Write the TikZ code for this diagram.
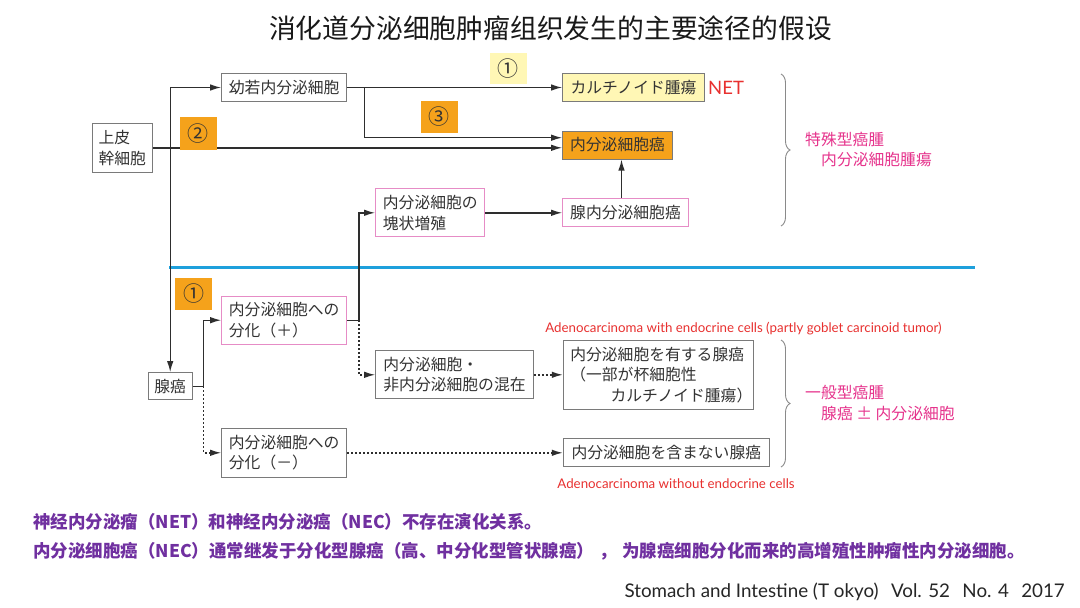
\documentclass[tikz,border=0pt]{standalone}
\usepackage{fontspec}
\setmainfont{Lato}
\newfontfamily\jp{Noto Sans CJK JP}
\newfontfamily\cjksc{Noto Sans CJK SC}
\usetikzlibrary{arrows.meta,decorations.pathreplacing,calc}
\definecolor{boxgray}{HTML}{7A7A7A}
\definecolor{textdark}{HTML}{333333}
\definecolor{pinkb}{HTML}{E68CC6}
\definecolor{yellowfill}{HTML}{FFF7B5}
\definecolor{orangefill}{HTML}{F5A21B}
\definecolor{magtext}{HTML}{E6338C}
\definecolor{redtext}{HTML}{E8302F}
\definecolor{divblue}{HTML}{1EA0DC}
\definecolor{purpletext}{HTML}{7030A0}
\definecolor{linec}{HTML}{2E2E2E}
\definecolor{bracec}{HTML}{8A8A8A}
\begin{document}
\begin{tikzpicture}[x=1pt,y=-1pt,
  box/.style={draw=boxgray, line width=1pt, text=textdark, inner sep=0pt, align=left,
    font=\jp\fontsize{15.8}{20.5}\selectfont},
  pbox/.style={box, draw=pinkb},
  sz/.style 2 args={minimum width=#1, minimum height=#2},
  lab/.style={inner sep=0pt, text=textdark, font=\jp\fontsize{21}{21}\selectfont,
    minimum width=36.7, minimum height=31.6},
  conn/.style={draw=linec, line width=1.4pt, -{Latex[length=11pt,width=6.5pt]}},
  dconn/.style={conn, dash pattern=on 2pt off 2pt},
  brc/.style={draw=bracec, line width=0.9pt, decorate, decoration={brace, amplitude=9pt}},
  mag/.style={anchor=west, inner sep=0pt, text=magtext, font=\jp\fontsize{15.8}{20}\selectfont},
  redsmall/.style={inner sep=0pt, text=redtext, font=\fontsize{13.3}{15}\selectfont},
  purp/.style={anchor=west, inner sep=0pt, text=purpletext, font=\cjksc\bfseries\fontsize{17.5}{20}\selectfont}
]
\fill[white] (0,0) rectangle (1080,608);
\useasboundingbox (0,0) rectangle (1080,608);

% title
\node[inner sep=0pt, text=black!90, font=\cjksc\fontsize{26.8}{27}\selectfont] (title) at (550.5,28) {消化道分泌细胞肿瘤组织发生的主要途径的假设};

% divider
\draw[divblue, line width=3.3pt] (169,267.3) -- (975,267.3);

% boxes
\node[box, sz={60}{49}] (stem) at (122.3,147.8) {上皮\\幹細胞};
\node[box, sz={125}{28.4}] (young) at (284.2,87.5) {幼若内分泌細胞};
\node[box, sz={141.6}{28.4}, fill=yellowfill] (carc) at (633.5,87.5) {カルチノイド腫瘍};
\node[box, sz={109.6}{28}, fill=orangefill] (nec) at (617.5,145) {内分泌細胞癌};
\node[pbox, sz={125.6}{28.4}] (gland) at (625.5,212.5) {腺内分泌細胞癌};
\node[pbox, sz={109.3}{47.7}] (mass) at (430.3,212.8) {内分泌細胞の\\塊状増殖};
\node[box, sz={43.7}{27.3}] (adeno) at (170.2,386.3) {腺癌};
\node[pbox, sz={125}{48.3}] (plus) at (284.2,320.2) {内分泌細胞への\\分化（＋）};
\node[box, sz={125}{49}] (minus) at (284.2,452.8) {内分泌細胞への\\分化（－）};
\node[box, sz={157.6}{48.3}] (mixed) at (454.5,374.8) {内分泌細胞・\\非内分泌細胞の混在};
\node[box, sz={190}{68.7}, text width=176pt] (with) at (658.3,375) {内分泌細胞を有する腺癌\\（一部が杯細胞性\\\hspace*{2.55em}カルチノイド腫瘍）};
\node[box, sz={206}{27.7}] (without) at (666.3,452.8) {内分泌細胞を含まない腺癌};

% connectors
\coordinate (vtop) at (adeno.north |- young.west);
\draw[conn] (vtop) -- (young.west);
\draw[conn] (vtop) -- (adeno.north);
\draw[conn] (stem.east) -- (stem.east -| nec.west);
\draw[conn] (young.east) -- (young.east -| carc.west);
\coordinate (b3) at ($(young.east)+(17.3,0)$);
\draw[conn] (b3) |- ($(nec.west)+(0,-7.3)$);
\draw[conn] (mass.east) -- (mass.east -| gland.west);
\draw[conn] ([xshift=-4pt]gland.north) -- ([xshift=-4pt]gland.north |- nec.south);
\coordinate (ja) at ($(adeno.east)+(11,0)$);
\draw[conn] (adeno.east) -- (ja) |- (plus.west);
\draw[dconn] (ja) |- (minus.west);
\coordinate (jp) at ($(plus.east)+(11.6,0)$);
\draw[conn] (plus.east) -- (jp) |- (mass.west);
\draw[dconn] (jp) |- (mixed.west);
\draw[dconn] (mixed.east) -- (mixed.east -| with.west);
\draw[dconn] (minus.east) -- (minus.east -| without.west);

% numbered labels
\node[lab, fill=yellowfill] (l1) at (508.3,68.5) {①};
\node[lab, fill=orangefill] (l3) at (439.2,116.8) {③};
\node[lab, fill=orangefill, minimum height=33.3] (l2) at (198.3,133.3) {②};
\node[lab, fill=orangefill] (l1b) at (193.7,293.8) {①};

% NET
\node[anchor=west, inner sep=0pt, text=redtext, font=\fontsize{18.5}{20}\selectfont] (net) at (708,88.3) {NET};

% braces
\draw[brc] (781,74) -- (781,226);
\draw[brc] (781,340) -- (781,467);
\node[mag] (sp1) at (805,140) {特殊型癌腫};
\node[mag] (sp2) at (821,160) {内分泌細胞腫瘍};
\node[mag] (gn1) at (805,393) {一般型癌腫};
\node[mag] (gn2) at (821,414) {腺癌 ± 内分泌細胞};

% english labels
\node[redsmall] (enw) at (743.5,329) {Adenocarcinoma with endocrine cells (partly goblet carcinoid tumor)};
\node[redsmall] (enwo) at (676,484) {Adenocarcinoma without endocrine cells};

% bottom notes
\node[purp] (n1) at (33,522) {神经内分泌瘤（NET）和神经内分泌癌（NEC）不存在演化关系。};
\node[purp] (n2) at (33,551) {内分泌细胞癌（NEC）通常继发于分化型腺癌（高、中分化型管状腺癌）\hspace{0.3em}，\hspace{0.3em}为腺癌细胞分化而来的高增殖性肿瘤性内分泌细胞。};
\node[anchor=east, inner sep=0pt, text=black!85, font=\fontsize{18.8}{20}\selectfont] (cite) at (1065,592) {Stomach and Intestine (T okyo)\hspace{0.4em} Vol. 52\hspace{0.4em} No. 4\hspace{0.4em} 2017};
\end{tikzpicture}
\end{document}
